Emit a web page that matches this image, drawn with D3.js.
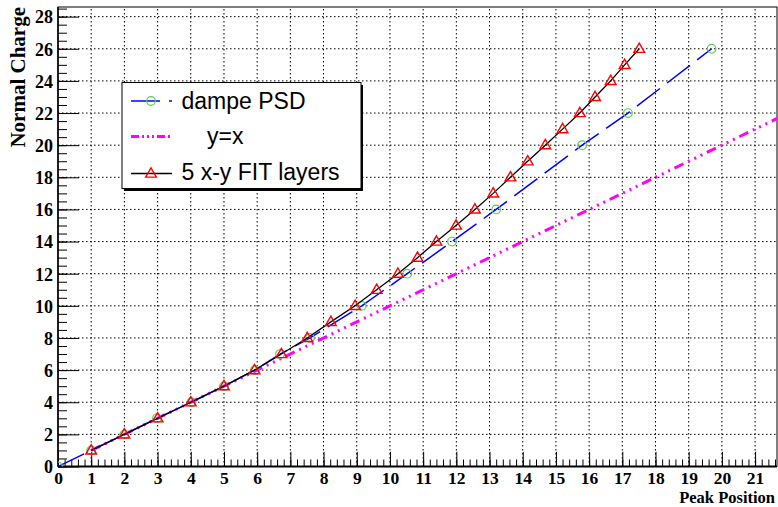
<!DOCTYPE html>
<html><head><meta charset="utf-8">
<script src="https://cdn.jsdelivr.net/npm/d3@7"></script>
<style>body{margin:0;background:#fff}svg{display:block}</style>
</head><body>
<svg id="c" width="778" height="507"></svg>
<script>
// ---- data ----
const dampeX = [0, 1, 2, 2.98, 4.02, 5, 5.93, 6.69, 7.59, 9.15, 10.52, 11.87, 13.2, 15.79, 17.17, 19.69];
const dampeY = [0, 1, 2, 3, 4, 5, 6, 7, 8, 10, 12, 14, 16, 20, 22, 26];
const fitX = [1, 2, 3, 4, 5, 5.92, 6.73, 7.51, 8.22, 8.95, 9.6, 10.24, 10.83, 11.4, 11.99, 12.56, 13.11, 13.63, 14.15, 14.68, 15.2, 15.72, 16.18, 16.65, 17.07, 17.51];
const fitY = [1, 2, 3, 4, 5, 6, 7, 8, 9, 10, 11, 12, 13, 14, 15, 16, 17, 18, 19, 20, 21, 22, 23, 24, 25, 26];
const yxX = [1, 22];
const yxY = [1, 22];
const xTicks = [0,1,2,3,4,5,6,7,8,9,10,11,12,13,14,15,16,17,18,19,20,21];
const yTicks = [0,2,4,6,8,10,12,14,16,18,20,22,24,26,28];
const legendLabels = ["dampe PSD", "y=x", "5 x-y FIT layers"];

// ---- layout ----
const L = 58, R = 777, T = 7, B = 466.5;
const xMax = 21.66, yMax = 28.6;
const x = d3.scaleLinear().domain([0, xMax]).range([L, R]);
const y = d3.scaleLinear().domain([0, yMax]).range([B, T]);
const svg = d3.select("#c");
const serif = "'Liberation Serif','Times New Roman',serif";
const sans = "'Liberation Sans',Arial,sans-serif";

svg.append("defs").append("clipPath").attr("id","fr").append("rect")
  .attr("x",L).attr("y",T).attr("width",R-L).attr("height",B-T);

// grid
const g = svg.append("g");
g.selectAll("line.vx").data(xTicks.filter(d=>d>0)).join("line")
  .attr("x1",d=>x(d)).attr("x2",d=>x(d)).attr("y1",B).attr("y2",T)
  .attr("stroke","#000").attr("stroke-width",1).attr("stroke-dasharray","1.5,2.5");
g.selectAll("line.hy").data(yTicks.filter(d=>d>0)).join("line")
  .attr("x1",L).attr("x2",R).attr("y1",d=>y(d)).attr("y2",d=>y(d))
  .attr("stroke","#000").attr("stroke-width",1).attr("stroke-dasharray","1.5,2.5");

// frame
svg.append("rect").attr("x",L).attr("y",T).attr("width",R-L).attr("height",B-T)
  .attr("fill","none").attr("stroke","#000").attr("stroke-width",1);

// ticks via d3 axes
const xMinor = d3.range(0, xMax+1e-6, 0.2);
const yMinor = d3.range(0, yMax+1e-6, 0.5);
const xAxisMinor = d3.axisBottom(x).tickValues(xMinor).tickSize(-7).tickFormat("");
const xAxisMajor = d3.axisBottom(x).tickValues(xTicks).tickSize(-14.7).tickFormat(d3.format("d")).tickPadding(4);
const yAxisMinor = d3.axisLeft(y).tickValues(yMinor).tickSize(-9).tickFormat("");
const yAxisMajor = d3.axisLeft(y).tickValues(yTicks).tickSize(-21).tickFormat(d3.format("d"));

function styleAxis(sel){ sel.select(".domain").remove(); sel.selectAll(".tick line").attr("stroke","#000").attr("stroke-width",1); }
svg.append("g").attr("transform",`translate(0,${B})`).call(xAxisMinor).call(styleAxis);
const xa = svg.append("g").attr("transform",`translate(0,${B})`).call(xAxisMajor).call(styleAxis);
xa.selectAll("text").attr("dy",null)
  .attr("y",17.5).attr("font-family",serif).attr("font-weight","bold").attr("font-size","17.5px").attr("fill","#000");
svg.append("g").attr("transform",`translate(${L},0)`).call(yAxisMinor).call(styleAxis);
const ya = svg.append("g").attr("transform",`translate(${L},0)`).call(yAxisMajor).call(styleAxis);
ya.selectAll("text").attr("x",-5).attr("dy","0.35em").attr("text-anchor","end")
  .attr("font-family",serif).attr("font-weight","bold").attr("font-size","18px").attr("fill","#000");

// axis lines
svg.append("line").attr("x1",L).attr("x2",R).attr("y1",B).attr("y2",B).attr("stroke","#000").attr("stroke-width",2);
svg.append("line").attr("x1",L).attr("x2",L).attr("y1",B).attr("y2",T).attr("stroke","#000").attr("stroke-width",1.5);

// axis titles
svg.append("text").attr("x",775).attr("y",503).attr("text-anchor","end")
  .attr("font-family",serif).attr("font-weight","bold").attr("font-size","16.5px").text("Peak Position");
svg.append("text").attr("transform","translate(25,7) rotate(-90)").attr("text-anchor","end")
  .attr("font-family",serif).attr("font-weight","bold").attr("font-size","21px").text("Normal Charge");

// lines
const plot = svg.append("g").attr("clip-path","url(#fr)");
const line = d3.line().x(d=>x(d[0])).y(d=>y(d[1]));
plot.append("path").datum(d3.zip(yxX,yxY)).attr("d",line).attr("fill","none")
  .attr("stroke","#ff00ff").attr("stroke-width",3).attr("stroke-dasharray","10,5,2,5,2,5,2,5");
plot.append("path").datum(d3.zip(dampeX,dampeY)).attr("d",line).attr("fill","none")
  .attr("stroke","#0000ff").attr("stroke-width",1.5).attr("stroke-dasharray","29,9");
plot.selectAll("circle.d").data(d3.zip(dampeX,dampeY)).join("circle")
  .attr("cx",d=>x(d[0])).attr("cy",d=>y(d[1])).attr("r",4.3)
  .attr("fill","none").attr("stroke","#5ccc5c").attr("stroke-width",1.2);
plot.append("path").datum(d3.zip(fitX,fitY)).attr("d",line).attr("fill","none")
  .attr("stroke","#000").attr("stroke-width",1.3);
const tri = d3.symbol().type(d3.symbolTriangle).size(50);
plot.selectAll("path.t").data(d3.zip(fitX,fitY)).join("path")
  .attr("transform",d=>`translate(${x(d[0])},${y(d[1])+0.5})`).attr("d",tri)
  .attr("fill","none").attr("stroke","#ff0000").attr("stroke-width",1.4);

// legend
const lg = svg.append("g");
lg.append("rect").attr("x",124).attr("y",85).attr("width",239).attr("height",106).attr("fill","#000");
lg.append("rect").attr("x",122).attr("y",82.5).attr("width",239).attr("height",106)
  .attr("fill","#fff").attr("stroke","#000").attr("stroke-width",1);
const rows = [101, 136.5, 173.5];
lg.append("line").attr("x1",131).attr("x2",172).attr("y1",rows[0]).attr("y2",rows[0])
  .attr("stroke","#0000ff").attr("stroke-width",1.5).attr("stroke-dasharray","29,9");
lg.append("circle").attr("cx",151).attr("cy",rows[0]).attr("r",4.3).attr("fill","none").attr("stroke","#5ccc5c").attr("stroke-width",1.2);
lg.append("line").attr("x1",131).attr("x2",172).attr("y1",rows[1]).attr("y2",rows[1])
  .attr("stroke","#ff00ff").attr("stroke-width",3).attr("stroke-dasharray","8,3,2,3,2,3,2,3");
lg.append("line").attr("x1",131).attr("x2",172).attr("y1",rows[2]).attr("y2",rows[2])
  .attr("stroke","#000").attr("stroke-width",1.3);
lg.append("path").attr("transform",`translate(151,${rows[2]+0.5})`).attr("d",tri)
  .attr("fill","none").attr("stroke","#ff0000").attr("stroke-width",1.4);
const lx = [181.5, 207, 181.5];
const lb = [108.5, 144, 180];
lg.selectAll("text").data(legendLabels).join("text")
  .attr("x",(d,i)=>lx[i]).attr("y",(d,i)=>lb[i])
  .attr("font-family",sans).attr("font-size","23px").attr("fill","#000").text(d=>d);
</script>
</body></html>
